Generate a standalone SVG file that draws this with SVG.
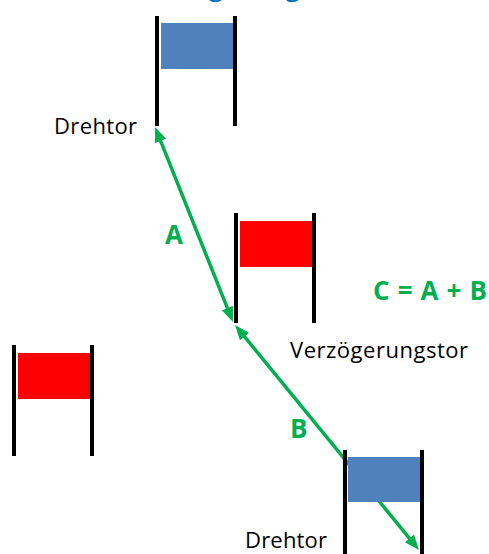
<svg xmlns="http://www.w3.org/2000/svg" width="489" height="554" viewBox="0 0 489 554">
<style>
.pole{stroke:#000;stroke-width:4;fill:none}
.blue{fill:#4F81BD}
.red{fill:#FF0000}
.lbl{font-family:"Open Sans","Liberation Sans",sans-serif;font-size:22px;fill:#000}
.glbl{font-family:"Open Sans","Liberation Sans",sans-serif;font-size:26px;font-weight:bold;fill:#00B050}
.title{font-family:"Open Sans","Liberation Sans",sans-serif;font-size:28px;fill:#0070C0}
.conn{stroke:#00B050;stroke-width:3.5;fill:none}
</style>
<defs>
<marker id="ah" markerUnits="userSpaceOnUse" markerWidth="16" markerHeight="12" refX="10" refY="6" orient="auto-start-reverse">
<path d="M0,0 L15,6 L0,12 z" fill="#00B050"/>
</marker>
</defs>
<rect width="489" height="554" fill="#fff"/>
<text class="title" x="134.5" y="-5.5">Verzögerung Drehtor (</text>
<g id="connectors">
<line id="arrowA" class="conn" x1="156.9" y1="131.6" x2="231.1" y2="317.4" marker-start="url(#ah)" marker-end="url(#ah)"/>
<line id="arrowB" class="conn" x1="238.2" y1="328.9" x2="415.8" y2="546.1" marker-start="url(#ah)" marker-end="url(#ah)"/>
</g>
<g id="gate-top">
<rect class="blue" x="161" y="23" width="72" height="46"/>
<line class="pole" x1="157" y1="16" x2="157" y2="126"/>
<line class="pole" x1="235" y1="16" x2="235" y2="126"/>
<text class="lbl" x="54" y="134" textLength="83">Drehtor</text>
</g>
<g id="gate-mid">
<rect class="red" x="240" y="221" width="72" height="46"/>
<line class="pole" x1="236" y1="213" x2="236" y2="323"/>
<line class="pole" x1="314" y1="213" x2="314" y2="323"/>
<text class="lbl" x="290" y="358" textLength="178">Verzögerungstor</text>
</g>
<g id="gate-left">
<rect class="red" x="18" y="353" width="72" height="46"/>
<line class="pole" x1="14" y1="345" x2="14" y2="456"/>
<line class="pole" x1="92" y1="345" x2="92" y2="456"/>
</g>
<g id="gate-bottom">
<rect class="blue" x="348" y="457" width="72" height="45"/>
<line class="pole" x1="345" y1="450" x2="345" y2="556"/>
<line class="pole" x1="422" y1="450" x2="422" y2="556"/>
<text class="lbl" x="245" y="548" textLength="82">Drehtor</text>
</g>
<g id="labels">
<text class="glbl" x="165" y="244">A</text>
<text class="glbl" x="290" y="438">B</text>
<text class="glbl" x="373" y="300" textLength="114">C = A + B</text>
</g>
</svg>
